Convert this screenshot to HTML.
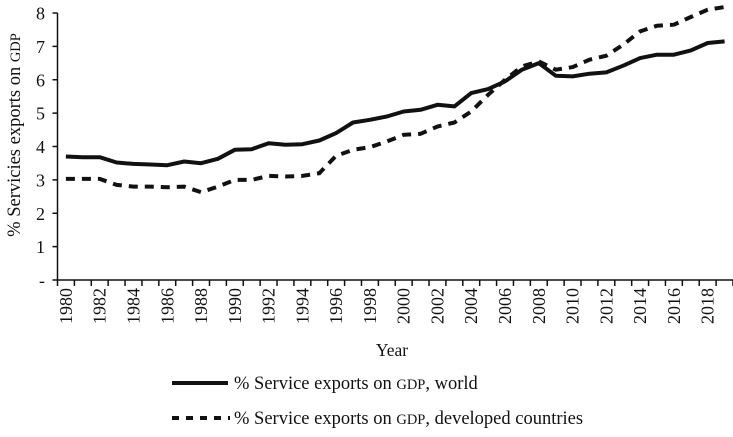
<!DOCTYPE html>
<html><head><meta charset="utf-8"><style>
html,body{margin:0;padding:0;background:#fff;}
svg{display:block;font-family:"Liberation Serif",serif;}
</style></head><body>
<svg id="chart" width="733" height="437" viewBox="0 0 733 437">
<g id="axes"></g><g id="series"></g>
<text x="392" y="356" font-size="17.5" text-anchor="middle" fill="#111">Year</text>
<text transform="translate(20,135) rotate(-90)" font-size="18.5" text-anchor="middle" fill="#111">% Servicies exports on <tspan font-size="14.5">GDP</tspan></text>
<g>
<line x1="172" y1="383" x2="228" y2="383" stroke="#111" stroke-width="4"/>
<text x="234" y="389" font-size="18.5" fill="#111">% Service exports on <tspan font-size="14.5">GDP</tspan>, world</text>
<line x1="172" y1="418" x2="230" y2="418" stroke="#111" stroke-width="4" stroke-dasharray="7,7"/>
<text x="234" y="424" font-size="18.5" fill="#111">% Service exports on <tspan font-size="14.5">GDP</tspan>, developed countries</text>
</g>
</svg>
<script>
const years = [];
for (let y = 1980; y <= 2019; y++) years.push(y);
const worldValues = [3.7,3.68,3.68,3.52,3.48,3.46,3.44,3.55,3.5,3.63,3.9,3.92,4.1,4.05,4.07,4.18,4.4,4.72,4.8,4.9,5.05,5.1,5.25,5.2,5.6,5.72,5.95,6.3,6.5,6.12,6.1,6.18,6.22,6.42,6.65,6.75,6.75,6.88,7.1,7.15];
const developedValues = [3.03,3.03,3.03,2.85,2.8,2.8,2.78,2.8,2.63,2.8,3.0,3.0,3.12,3.1,3.12,3.2,3.72,3.9,3.98,4.15,4.35,4.38,4.6,4.72,5.05,5.55,6.0,6.4,6.55,6.3,6.38,6.6,6.72,7.05,7.45,7.62,7.65,7.88,8.1,8.18];
const yTicks = [0,1,2,3,4,5,6,7,8];
const yTickLabels = ["-","1","2","3","4","5","6","7","8"];

const NS = "http://www.w3.org/2000/svg";
const x0 = 57.5, x1 = 733, yTop = 13, yBot = 280;
const step = (x1 - x0) / years.length;
const xScale = i => x0 + step * (i + 0.5);
const yScale = v => yBot - (v / 8) * (yBot - yTop);
function mk(tag, attrs, parent) {
  const e = document.createElementNS(NS, tag);
  for (const k in attrs) e.setAttribute(k, attrs[k]);
  parent.appendChild(e);
  return e;
}
const axes = document.getElementById("axes");
const series = document.getElementById("series");
const ya = mk("line", {x1: x0, y1: yTop, x2: x0, y2: yBot, stroke: "#111", "stroke-width": 1.5}, axes);


const xa = mk("line", {x1: x0, y1: yBot, x2: x1, y2: yBot, stroke: "#111", "stroke-width": 1.5}, axes);


yTicks.forEach((t, i) => {
  const y = yScale(t);
  mk("line", {x1: x0 - 5, y1: y, x2: x0, y2: y, stroke: "#111", "stroke-width": 1.5}, axes);
  const tx = mk("text", {x: 45, y: y + 6.5, "font-size": 18, "text-anchor": "end", fill: "#111"}, axes);
  tx.textContent = yTickLabels[i];
  
  
});
for (let i = 0; i <= years.length; i++) {
  const x = x0 + step * i;
  mk("line", {x1: x, y1: yBot, x2: x, y2: yBot + 6, stroke: "#111", "stroke-width": 1.5}, axes);
}
years.forEach((yr, i) => {
  if (i % 2) return;
  const x = xScale(i);
  const tx = mk("text", {transform: `translate(${x + 6},${yBot + 8}) rotate(-90)`, "font-size": 18, "text-anchor": "end", fill: "#111"}, axes);
  tx.textContent = yr;
  
  
});
function pathFor(vals) {
  return vals.map((v, i) => (i ? "L" : "M") + xScale(i).toFixed(1) + "," + yScale(v).toFixed(1)).join("");
}
const pw = mk("path", {d: pathFor(worldValues), fill: "none", stroke: "#111", "stroke-width": 4, "stroke-linejoin": "round"}, series);


const pd = mk("path", {d: pathFor(developedValues), fill: "none", stroke: "#111", "stroke-width": 4, "stroke-dasharray": "9,7"}, series);


</script>
</body></html>
